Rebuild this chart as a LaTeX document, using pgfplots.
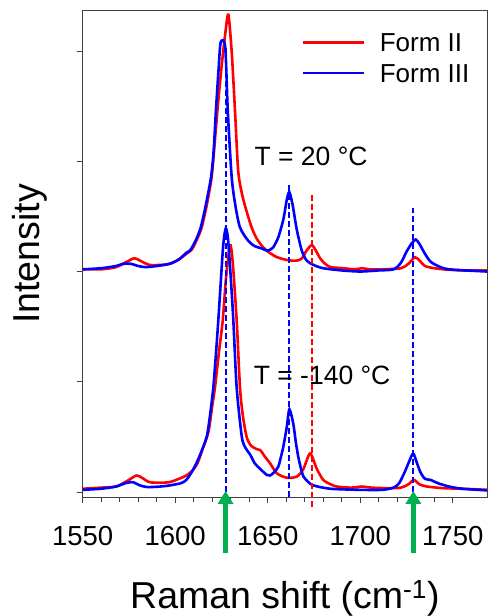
\documentclass[border=0pt]{standalone}
\usepackage{fontspec}
\setmainfont{Liberation Sans}
\usepackage{pgfplots}
\pgfplotsset{compat=1.18}
\usetikzlibrary{arrows.meta}
\definecolor{arrowgreen}{RGB}{0,176,80}
\definecolor{axgray}{RGB}{64,64,64}
\begin{document}
\begin{tikzpicture}
\begin{axis}[
  at={(0,0)}, anchor=south west,
  scale only axis, width=404.3pt, height=486pt,
  xmin=1550, xmax=1768.5, ymin=-0.045, ymax=4.363,
  axis line style={axgray, line width=1pt},
  xtick={1550,1600,...,1750}, minor x tick num=4,
  ytick={0,1,2,3,4}, yticklabels={},
  tick align=outside, xtick pos=bottom, ytick pos=left,
  major tick length=6pt, minor tick length=5pt,
  every tick/.style={axgray, line width=1pt},
  /pgf/number format/assume math mode=true,
  /pgf/number format/1000 sep={},
  ticklabel style={font=\fontsize{27.5}{30}\selectfont},
  xticklabel style={yshift=-20pt},
  xlabel={Raman shift (cm\textsuperscript{-1})},
  xlabel style={font=\fontsize{37.5}{40}\selectfont, at={(axis description cs:0.5,0)}, anchor=base, yshift=-111pt},
  ylabel={Intensity},
  ylabel style={font=\fontsize{37.5}{40}\selectfont, at={(axis description cs:-0.108,0.5)}, anchor=base},
  clip=false,
  spec/.style={line width=2.6pt, smooth, tension=0.45},
  guide/.style={line width=1.8pt, dash pattern=on 6pt off 3pt, forget plot},
  legend cell align=left,
  legend image code/.code={\draw[#1] (0pt,0pt) -- (61pt,0pt);},
  legend style={draw=none, fill=none, at={(axis description cs:0.540,0.954)}, anchor=north west,
    font=\fontsize{26}{30}\selectfont, inner sep=0pt, row sep=12.7pt, column sep=15pt,
    nodes={inner sep=0pt, text depth=0pt}},
]
% upper Form II
\addplot[red, spec] coordinates {
(1550,2.02) (1560,2.02) (1568,2.04) (1574,2.09) (1578,2.12) (1582,2.09) (1586,2.06) (1592,2.06)
(1597,2.07) (1602,2.11) (1606,2.16) (1609,2.20) (1612,2.30) (1614.3,2.40) (1617,2.60) (1619.7,2.86)
(1621.5,3.20) (1622.8,3.46) (1625,3.85) (1627,4.15) (1628.7,4.33) (1630.5,4.00) (1632.3,3.46)
(1634,2.92) (1636,2.71) (1638.5,2.55) (1641.3,2.40) (1644,2.30) (1647.5,2.22) (1651,2.17)
(1655,2.13) (1659,2.11) (1662,2.10) (1666,2.10) (1668.5,2.12) (1671,2.19) (1673.8,2.24)
(1676,2.19) (1678.3,2.12) (1681,2.07) (1684,2.04) (1691,2.03) (1697,2.02) (1701,2.03) (1705,2.02)
(1712,2.02) (1722,2.03) (1726,2.07) (1729.5,2.13) (1732,2.10) (1735,2.05) (1740,2.03) (1745,2.02)
(1755,2.01) (1768.5,2.01)};
\addlegendentry{Form II}
% upper Form III
\addplot[blue, spec] coordinates {
(1550,2.02) (1560,2.03) (1568,2.05) (1572,2.07) (1576,2.07) (1580,2.05) (1584,2.04) (1590,2.05)
(1597,2.07) (1602,2.11) (1606,2.17) (1608,2.19) (1611,2.28) (1613.8,2.40) (1616.5,2.60) (1619.4,2.86)
(1620.8,3.10) (1622,3.46) (1623.5,3.85) (1624.6,4.08) (1627,4.04) (1628.4,3.46) (1630.5,2.86)
(1632.5,2.60) (1635,2.40) (1639.4,2.28) (1643,2.23) (1646.7,2.21) (1649.5,2.19) (1651.5,2.20)
(1653,2.22) (1655.7,2.31) (1658.4,2.47) (1660.3,2.65) (1661.7,2.72) (1663.5,2.60) (1665.7,2.38)
(1668.4,2.19) (1671,2.10) (1674.7,2.06) (1680,2.03) (1690,2.01) (1700,2.00) (1710,2.01) (1718,2.02)
(1722,2.08) (1725,2.18) (1728,2.26) (1730,2.29) (1732,2.25) (1735,2.16) (1738,2.09) (1742,2.05)
(1748,2.02) (1768.5,2.00)};
\addlegendentry{Form III}
% lower Form II
\addplot[red, spec, forget plot] coordinates {
(1550,0.03) (1560,0.04) (1568,0.05) (1574,0.10) (1579,0.15) (1582,0.13) (1586,0.09) (1592,0.085)
(1597,0.09) (1602,0.12) (1606,0.15) (1609,0.19) (1612,0.26) (1615,0.40) (1618,0.55) (1620,0.78)
(1621.5,0.95) (1623.5,1.25) (1625.7,1.56) (1627.5,1.95) (1629.6,2.24) (1631,2.10) (1633.2,1.56)
(1635,0.95) (1636.5,0.70) (1638.6,0.50) (1641,0.42) (1644,0.39) (1646,0.38) (1648.5,0.32)
(1651.3,0.26) (1654.9,0.17) (1660.3,0.13) (1665.7,0.14) (1669.3,0.21) (1672.9,0.35) (1676.5,0.21)
(1680,0.11) (1684,0.07) (1687.3,0.05) (1695,0.04) (1701,0.05) (1706,0.04) (1715,0.035) (1722,0.04)
(1726,0.07) (1729,0.11) (1732,0.07) (1736,0.05) (1745,0.035) (1755,0.03) (1768.5,0.02)};
% lower Form III
\addplot[blue, spec, forget plot] coordinates {
(1550,0.02) (1560,0.03) (1568,0.05) (1573,0.08) (1577,0.09) (1581,0.06) (1585,0.045) (1592,0.05)
(1597,0.06) (1603,0.08) (1606,0.11) (1609.6,0.20) (1613,0.32) (1617,0.50) (1619,0.72) (1620.6,0.95)
(1622,1.25) (1623.3,1.56) (1624.6,1.90) (1626,2.25) (1627.3,2.39) (1628.5,2.30) (1630,1.95)
(1631.4,1.56) (1633.2,0.95) (1636,0.50) (1638,0.40) (1640.5,0.34) (1643,0.26) (1645.9,0.21)
(1649.5,0.155) (1651.3,0.15) (1653.5,0.18) (1655.7,0.23) (1657,0.31) (1658.4,0.41) (1660.3,0.59)
(1661.7,0.75) (1663.8,0.62) (1665.2,0.45) (1666.5,0.32) (1668,0.21) (1669.3,0.14) (1672,0.09)
(1674.7,0.06) (1683.7,0.03) (1700,0.02) (1712,0.02) (1718,0.04) (1721,0.08) (1724,0.18)
(1726.5,0.28) (1728.6,0.35) (1730.5,0.27) (1732.5,0.18) (1735,0.12) (1738,0.11) (1742,0.08)
(1748,0.05) (1755,0.03) (1768.5,0.015)};
% dashed guide lines
\addplot[blue, guide] coordinates {(1627.5,0) (1627.5,4.03)};
\addplot[blue, guide] coordinates {(1661.4,-0.045) (1661.4,2.80)};
\addplot[red, guide] coordinates {(1673.8,-0.136) (1673.8,2.71)};
\addplot[blue, guide] coordinates {(1728.4,0) (1728.4,2.58)};
% green arrows
\addplot[arrowgreen, line width=5pt, -{Triangle[width=15pt,length=13pt]}, forget plot] coordinates {(1627.2,-0.553) (1627.2,0.01)};
\addplot[arrowgreen, line width=5pt, -{Triangle[width=15pt,length=13pt]}, forget plot] coordinates {(1728.7,-0.553) (1728.7,0.01)};
\node[font=\fontsize{26.5}{30}\selectfont] at (axis cs:1673.4,3.04) {T = 20 °C};
\node[font=\fontsize{26.5}{30}\selectfont] at (axis cs:1679.4,1.06) {T = -140 °C};
\end{axis}
\pgfresetboundingbox
\path (-82.7pt,-119pt) rectangle (406.3pt,497pt);
\end{tikzpicture}
\end{document}
